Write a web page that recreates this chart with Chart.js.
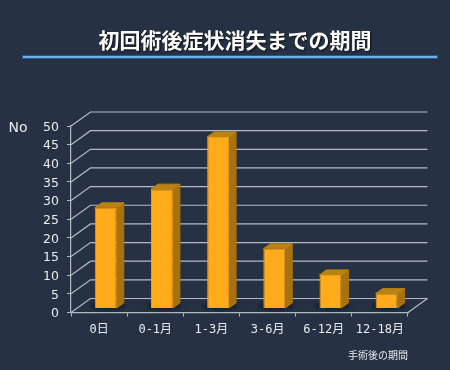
<!DOCTYPE html>
<html>
<head>
<meta charset="utf-8">
<title>初回術後症状消失までの期間</title>
<script src="https://cdn.jsdelivr.net/npm/chart.js@4/dist/chart.umd.min.js"></script>
<style>
    html, body { margin: 0; padding: 0; background: #263244; }
    canvas { display: block; }
</style>
</head>
<body>
<canvas id="myChart" width="450" height="370"></canvas>
<script>
// Chart data
const categories = ['0日', '0-1月', '1-3月', '3-6月', '6-12月', '12-18月'];
const patientCounts = [27, 32, 46, 16, 9, 4];
const yTicks = [0, 5, 10, 15, 20, 25, 30, 35, 40, 45, 50];

const chartTitle = '初回術後症状消失までの期間';
const yAxisLabel = 'No';
const xAxisLabel = '手術後の期間';

// Fake 3D settings
const wallDepth = { x: 19.5, y: -14 };
const barShift = { x: 6.7, y: -4 };
const barDepth = { x: 7, y: -5 };

const cjkFont = '"Noto Sans CJK JP", sans-serif';
const lineColor = '#b4bac2';
const textColor = '#e9ebee';

// Title, rule under the title and the two loose axis labels
const textPlugin = {
    id: 'pageText',
    beforeDraw(chart) {
        const ctx = chart.ctx;
        ctx.save();
        ctx.fillStyle = '#1f5c96';
        ctx.fillRect(22, 55, 416, 4);
        ctx.fillStyle = '#76b0e0';
        ctx.fillRect(23, 56, 414, 2);

        ctx.textAlign = 'center';
        ctx.textBaseline = 'middle';
        ctx.font = 'bold 21px ' + cjkFont;
        ctx.shadowColor = 'rgba(0, 0, 0, 0.7)';
        ctx.shadowBlur = 2;
        ctx.shadowOffsetX = 1;
        ctx.shadowOffsetY = 1;
        ctx.fillStyle = '#ffffff';
        ctx.fillText(chartTitle, 235, 40);
        ctx.shadowColor = 'transparent';

        ctx.font = '14px "DejaVu Sans", sans-serif';
        ctx.fillStyle = textColor;
        ctx.fillText(yAxisLabel, 18, 128);
        ctx.font = '10px ' + cjkFont;
        ctx.fillText(xAxisLabel, 378, 355);
        ctx.restore();
    }
};

// Wall lines going back from each y tick, and the floor edge
const wallPlugin = {
    id: 'wall',
    beforeDatasetsDraw(chart) {
        const ctx = chart.ctx;
        const area = chart.chartArea;
        const yScale = chart.scales.y;
        ctx.save();
        ctx.strokeStyle = lineColor;
        ctx.lineWidth = 1.2;
        yScale.ticks.forEach(tick => {
            const y = yScale.getPixelForValue(tick.value);
            ctx.beginPath();
            ctx.moveTo(area.left, y);
            ctx.lineTo(area.left + wallDepth.x, y + wallDepth.y);
            ctx.lineTo(area.right + wallDepth.x, y + wallDepth.y);
            ctx.stroke();
        });
        ctx.beginPath();
        ctx.moveTo(area.right, area.bottom);
        ctx.lineTo(area.right + wallDepth.x, area.bottom + wallDepth.y);
        ctx.stroke();
        ctx.restore();
    }
};

// Floor shadow, side and top faces of each bar, then shift the front face
const barPlugin = {
    id: 'bars3d',
    beforeDatasetDraw(chart, args) {
        const ctx = chart.ctx;
        const bars = chart.getDatasetMeta(args.index).data;
        ctx.save();
        ctx.translate(barShift.x, barShift.y);
        ctx.lineJoin = 'round';
        ctx.lineWidth = 1;
        bars.forEach(bar => {
            const left = bar.x - bar.width / 2;
            const right = bar.x + bar.width / 2;

            ctx.save();
            ctx.fillStyle = 'rgba(12, 18, 28, 0.8)';
            ctx.filter = 'blur(2px)';
            ctx.beginPath();
            ctx.ellipse(bar.x + 2, bar.base - 2, bar.width / 2 + 7, 3.5, 0, 0, Math.PI * 2);
            ctx.fill();
            ctx.restore();

            ctx.fillStyle = ctx.strokeStyle = '#a87210';
            ctx.beginPath();
            ctx.moveTo(right, bar.y);
            ctx.lineTo(right + barDepth.x, bar.y + barDepth.y);
            ctx.lineTo(right + barDepth.x, bar.base + barDepth.y);
            ctx.lineTo(right, bar.base);
            ctx.closePath();
            ctx.fill();
            ctx.stroke();

            ctx.fillStyle = ctx.strokeStyle = '#b98212';
            ctx.beginPath();
            ctx.moveTo(left, bar.y);
            ctx.lineTo(left + barDepth.x, bar.y + barDepth.y);
            ctx.lineTo(right + barDepth.x, bar.y + barDepth.y);
            ctx.lineTo(right, bar.y);
            ctx.closePath();
            ctx.fill();
            ctx.stroke();
        });
    },
    afterDatasetDraw(chart) {
        chart.ctx.restore();
    }
};

const ctx = document.getElementById('myChart').getContext('2d');

new Chart(ctx, {
    type: 'bar',
    data: {
        labels: categories,
        datasets: [{
            data: patientCounts,
            backgroundColor: '#ffab1c',
            borderColor: '#f09c14',
            borderWidth: 1,
            barPercentage: 0.39,
            categoryPercentage: 1,
            clip: false
        }]
    },
    plugins: [textPlugin, wallPlugin, barPlugin],
    options: {
        responsive: false,
        animation: false,
        layout: {
            padding: { left: 11, right: 42, top: 126, bottom: 17.5 }
        },
        scales: {
            x: {
                afterFit: scale => { scale.height = 40; },
                grid: {
                    drawOnChartArea: false,
                    color: lineColor,
                    tickLength: 4
                },
                border: { color: lineColor, width: 1.2 },
                ticks: {
                    color: textColor,
                    padding: 6,
                    maxRotation: 0,
                    autoSkip: false,
                    font: { family: '"DejaVu Sans Mono", ' + cjkFont, size: 12 }
                }
            },
            y: {
                min: yTicks[0],
                max: yTicks[yTicks.length - 1],
                afterFit: scale => { scale.width = 60; },
                afterBuildTicks: scale => {
                    scale.ticks = yTicks.map(value => ({ value }));
                },
                grid: {
                    drawOnChartArea: false,
                    color: lineColor,
                    tickLength: 4
                },
                border: { color: lineColor, width: 1.2 },
                ticks: {
                    color: textColor,
                    padding: 8,
                    labelOffset: 1.5,
                    font: { family: '"DejaVu Sans", sans-serif', size: 12.5 }
                }
            }
        },
        plugins: {
            legend: { display: false },
            tooltip: { enabled: false }
        }
    }
});
</script>
</body>
</html>
